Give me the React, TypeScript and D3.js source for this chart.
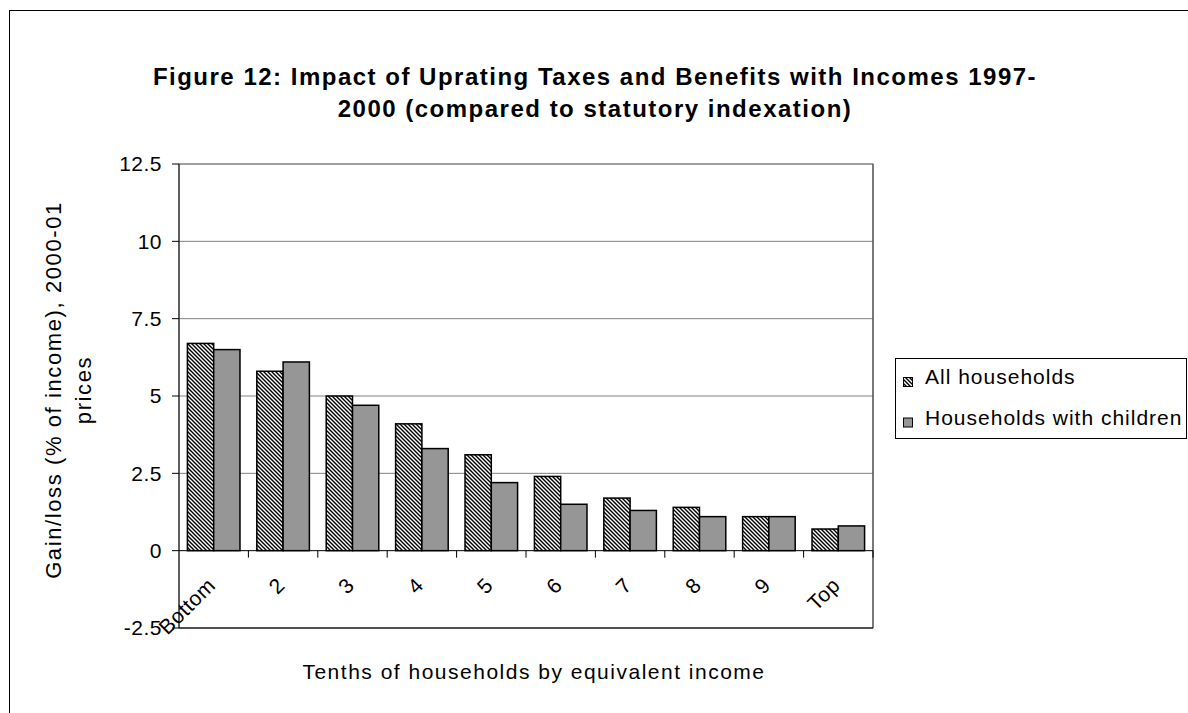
import React from "react";
import * as d3 from "d3";

const categories = ["Bottom", "2", "3", "4", "5", "6", "7", "8", "9", "Top"];
const allHouseholds = [6.7, 5.8, 5.0, 4.1, 3.1, 2.4, 1.7, 1.4, 1.1, 0.7];
const withChildren = [6.5, 6.1, 4.7, 3.3, 2.2, 1.5, 1.3, 1.1, 1.1, 0.8];
const seriesNames = ["All households", "Households with children"];
const yTicks = [-2.5, 0, 2.5, 5, 7.5, 10, 12.5];
const titleLines = [
  "Figure 12: Impact of Uprating Taxes and Benefits with Incomes 1997-",
  "2000 (compared to statutory indexation)",
];
const yTitleLines = ["Gain/loss (% of income), 2000-01", "prices"];
const xTitle = "Tenths of households by equivalent income";

const W = 1188;
const H = 713;
const plot = { left: 179, right: 873, top: 164, bottom: 628 };
const FONT = "'Liberation Sans', Arial, Helvetica, sans-serif";

export default function App() {
  const x = d3.scaleBand<string>().domain(categories).range([plot.left, plot.right]).padding(0);
  const x1 = d3
    .scaleBand<number>()
    .domain([0, 1])
    .range([0, x.bandwidth()])
    .paddingInner(0)
    .paddingOuter(0.32);
  const y = d3.scaleLinear().domain([-2.5, 12.5]).range([plot.bottom, plot.top]);
  const series = [allHouseholds, withChildren];
  const fills = ["url(#hatch)", "#969696"];
  const legendX = 895;
  const legendY = 358;

  return (
    <svg
      width={W}
      height={H}
      style={{ position: "absolute", left: 0, top: 0, background: "#fff" }}
      fontFamily={FONT}
    >
      <defs>
        <pattern id="hatch" patternUnits="userSpaceOnUse" width={4} height={4}>
          <rect width={4} height={4} fill="#fff" />
          <path d="M-1,-1 L5,5 M-1,3 L1,5 M3,-1 L5,1" stroke="#000" strokeWidth={1.4} />
        </pattern>
      </defs>
      <rect x={0} y={0} width={W} height={H} fill="#fff" />
      {/* outer chart frame */}
      <rect x={9.5} y={10.5} width={W + 20} height={H + 20} fill="none" stroke="#000" strokeWidth={1} />

      {/* title */}
      {titleLines.map((t, i) => (
        <text
          key={i}
          x={595}
          y={85 + i * 32}
          textAnchor="middle"
          fontSize={24}
          fontWeight="bold"
          letterSpacing={1.5}
          fill="#000"
        >
          {t}
        </text>
      ))}

      {/* gridlines */}
      {yTicks.map((v) =>
        v === 0 ? null : (
          <line
            key={"g" + v}
            x1={plot.left}
            x2={plot.right}
            y1={y(v)}
            y2={y(v)}
            stroke="#808080"
            strokeWidth={1}
          />
        )
      )}
      {/* plot border */}
      <rect
        x={plot.left}
        y={plot.top}
        width={plot.right - plot.left}
        height={plot.bottom - plot.top}
        fill="none"
        stroke="#808080"
        strokeWidth={1}
      />
      <line x1={plot.left} x2={plot.right} y1={plot.bottom} y2={plot.bottom} stroke="#000" strokeWidth={1} />
      <line x1={plot.right} x2={plot.right} y1={plot.top} y2={plot.bottom} stroke="#333" strokeWidth={1} />

      {/* bars */}
      {categories.map((c, ci) =>
        series.map((s, si) => {
          const v = s[ci];
          const x0 = (x(c) as number) + (x1(si) as number);
          const y0 = y(Math.max(0, v));
          const h = Math.abs(y(v) - y(0));
          return (
            <rect
              key={c + si}
              x={x0}
              y={y0}
              width={x1.bandwidth()}
              height={h}
              fill={fills[si]}
              stroke="#000"
              strokeWidth={1.5}
            />
          );
        })
      )}

      {/* value axis */}
      <line x1={plot.left} x2={plot.left} y1={plot.top} y2={plot.bottom} stroke="#000" strokeWidth={1} />
      {yTicks.map((v) => (
        <g key={"t" + v}>
          <line x1={plot.left - 7} x2={plot.left} y1={y(v)} y2={y(v)} stroke="#000" strokeWidth={1} />
          <text x={162} y={y(v)} dy="0.35em" textAnchor="end" fontSize={21} letterSpacing={0.5} fill="#000">
            {String(v)}
          </text>
        </g>
      ))}

      {/* category axis at zero */}
      <line x1={plot.left} x2={plot.right} y1={y(0)} y2={y(0)} stroke="#000" strokeWidth={1} />
      {categories.map((c, i) =>
        i === 0 ? null : (
          <line
            key={"ct" + c}
            x1={x(c) as number}
            x2={x(c) as number}
            y1={y(0)}
            y2={y(0) + 7}
            stroke="#000"
            strokeWidth={1}
          />
        )
      )}
      <line x1={plot.right} x2={plot.right} y1={y(0)} y2={y(0) + 7} stroke="#000" strokeWidth={1} />
      {categories.map((c) => {
        const cx = (x(c) as number) + x.bandwidth() / 2;
        return (
          <text
            key={"cl" + c}
            transform={`translate(${cx + 3},${y(0) + 36}) rotate(-45)`}
            textAnchor="end"
            fontSize={21}
            letterSpacing={0.5}
            fill="#000"
          >
            {c}
          </text>
        );
      })}

      {/* axis titles */}
      <text
        x={(plot.left + plot.right) / 2 + 8}
        y={679}
        textAnchor="middle"
        fontSize={21}
        letterSpacing={1.5}
        fill="#000"
      >
        {xTitle}
      </text>
      {yTitleLines.map((t, i) => (
        <text
          key={"yt" + i}
          transform={`translate(${61 + i * 30},${(plot.top + plot.bottom) / 2 - 6}) rotate(-90)`}
          textAnchor="middle"
          fontSize={22}
          letterSpacing={1.6}
          fill="#000"
        >
          {t}
        </text>
      ))}

      {/* legend */}
      <rect x={legendX + 0.5} y={legendY + 0.5} width={291} height={80} fill="#fff" stroke="#000" strokeWidth={1} />
      {seriesNames.map((n, i) => (
        <g key={"lg" + i}>
          <rect
            x={903.5}
            y={377.5 + i * 40.5}
            width={9}
            height={9}
            fill={fills[i]}
            stroke="#000"
            strokeWidth={1}
          />
          <text x={925} y={384 + i * 41} fontSize={21} letterSpacing={1} fill="#000">
            {n}
          </text>
        </g>
      ))}
    </svg>
  );
}
